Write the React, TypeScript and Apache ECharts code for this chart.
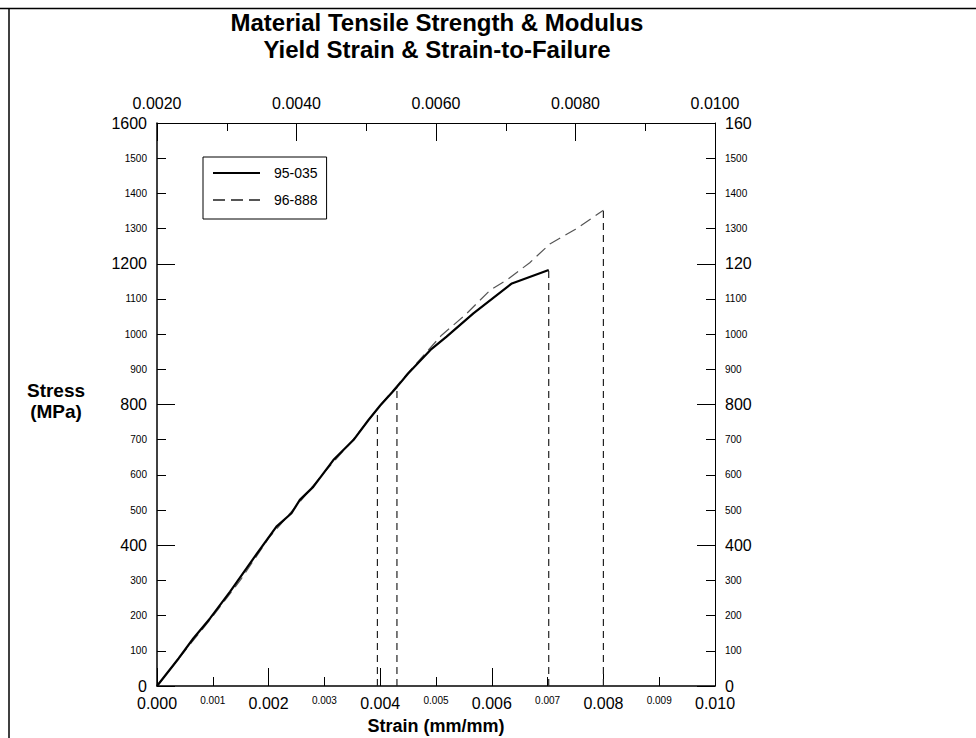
import { useEffect, useRef } from 'react';
import * as echarts from 'echarts';

const FONT = '"Liberation Sans", Arial, Helvetica, sans-serif';

const titleLines = ['Material Tensile Strength & Modulus', 'Yield Strain & Strain-to-Failure'];
const yTitle = 'Stress\n(MPa)';
const xTitle = 'Strain (mm/mm)';
const seriesNames = ['95-035', '96-888'];

// 95-035 (solid)
const strain95 = [0, 0.00039, 0.00065, 0.00095, 0.00131, 0.00173, 0.00214, 0.00241, 0.00256, 0.0028, 0.00316, 0.00352, 0.00379, 0.004, 0.0043, 0.0045, 0.0049, 0.00519, 0.00567, 0.00636, 0.00702];
const stress95 = [0, 79, 135, 192, 268, 363, 453, 491, 529, 566, 642, 699, 756, 797, 850, 888, 955, 993, 1059, 1144, 1182];

// 96-888 (dashed)
const strain96 = [0, 0.0005, 0.001, 0.0015, 0.002, 0.0025, 0.003, 0.0035, 0.004, 0.0045, 0.0051, 0.00552, 0.00597, 0.00627, 0.00668, 0.00704, 0.0075, 0.008];
const stress96 = [0, 100, 198, 302, 420, 512, 608, 697, 798, 890, 997, 1054, 1125, 1154, 1203, 1256, 1298, 1352];

// yield / failure drop lines
const dropStrains = [0.00395, 0.0043, 0.00702, 0.008];
const dropStresses = [786, 852, 1182, 1352];

const bottomTickLabels = [0, 0.001, 0.002, 0.003, 0.004, 0.005, 0.006, 0.007, 0.008, 0.009, 0.01];
const topTickLabels = [0.002, 0.004, 0.006, 0.008, 0.01];
const stressTickLabels = [0, 100, 200, 300, 400, 500, 600, 700, 800, 900, 1000, 1100, 1200, 1300, 1400, 1500, 1600];
const rightBigLabels: Record<number, string> = { 1600: '160', 1200: '120', 800: '800', 400: '400', 0: '0' };

export default function App() {
  const ref = useRef<HTMLDivElement>(null);
  useEffect(() => {
    if (!ref.current) return;
    const chart = echarts.init(ref.current, undefined, { renderer: 'svg' });
    const richY = {
      b: { fontSize: 16, lineHeight: 16, fontFamily: FONT, color: '#000' },
      s: { fontSize: 10, lineHeight: 10, fontFamily: FONT, color: '#000' },
    };
    const axisLineStyle = { color: '#000', width: 1.5 };
    const option: any = {
      animation: false,
      backgroundColor: '#fff',
      title: [
        {
          text: titleLines.join('\n'),
          left: 437,
          top: 9,
          padding: 0,
          textAlign: 'center',
          textStyle: { fontSize: 24, fontWeight: 'bold', lineHeight: 27, fontFamily: FONT, color: '#000' },
        },
        {
          text: yTitle,
          left: 56,
          top: 379.5,
          padding: 0,
          textAlign: 'center',
          textStyle: { fontSize: 19, fontWeight: 'bold', lineHeight: 21.5, fontFamily: FONT, color: '#000' },
        },
      ],
      legend: {
        data: seriesNames,
        orient: 'vertical',
        left: 203,
        top: 157,
        padding: [9, 9, 12, 9],
        itemWidth: 47,
        itemHeight: 14,
        itemGap: 13,
        borderColor: '#000',
        borderWidth: 1,
        borderRadius: 0,
        selectedMode: false,
        itemStyle: { opacity: 0 },
        textStyle: { fontSize: 14, fontFamily: FONT, color: '#000', padding: [0, 0, 0, 9] },
      },
      grid: { left: 157, top: 123, width: 558, height: 563, containLabel: false, outerBoundsMode: 'none' },
      xAxis: [
        {
          type: 'value',
          position: 'bottom',
          min: 0,
          max: 0.01,
          interval: 0.002,
          axisLine: { show: true, onZero: false, lineStyle: axisLineStyle },
          axisTick: { show: true, inside: true, length: 18, lineStyle: { color: '#000', width: 1 } },
          minorTick: { show: true, splitNumber: 2, length: 9, lineStyle: { color: '#000', width: 1 } },
          splitLine: { show: false },
          axisLabel: {
            customValues: bottomTickLabels,
            margin: 9,
            formatter: (v: number) => {
              const k = Math.round(v * 1000);
              return k % 2 === 0 ? `{b|${v.toFixed(3)}}` : `{s|${v.toFixed(3)}}`;
            },
            rich: richY,
          },
          name: xTitle,
          nameLocation: 'middle',
          nameGap: 31,
          nameTextStyle: { fontSize: 18, fontWeight: 'bold', fontFamily: FONT, color: '#000', lineHeight: 18 },
        },
        {
          type: 'value',
          position: 'top',
          min: 0.002,
          max: 0.01,
          interval: 0.002,
          axisLine: { show: true, onZero: false, lineStyle: { color: '#000', width: 1 } },
          axisTick: { show: true, inside: true, length: 18, lineStyle: { color: '#000', width: 1 } },
          minorTick: { show: true, splitNumber: 2, length: 8, lineStyle: { color: '#000', width: 1 } },
          splitLine: { show: false },
          axisLabel: {
            customValues: topTickLabels,
            margin: 12,
            fontSize: 16,
            lineHeight: 16,
            fontFamily: FONT,
            color: '#000',
            formatter: (v: number) => v.toFixed(4),
          },
        },
      ],
      yAxis: [
        {
          type: 'value',
          position: 'left',
          min: 0,
          max: 1600,
          interval: 400,
          axisLine: { show: true, onZero: false, lineStyle: axisLineStyle },
          axisTick: { show: true, inside: true, length: 18, lineStyle: { color: '#000', width: 1 } },
          minorTick: { show: true, splitNumber: 4, length: 9, lineStyle: { color: '#000', width: 1 } },
          splitLine: { show: false },
          axisLabel: {
            customValues: stressTickLabels,
            margin: 10,
            formatter: (v: number) => (v % 400 === 0 ? `{b|${v}}` : `{s|${v}}`),
            rich: richY,
          },
        },
        {
          type: 'value',
          position: 'right',
          min: 0,
          max: 1600,
          interval: 400,
          axisLine: { show: true, onZero: false, lineStyle: { color: '#000', width: 1 } },
          axisTick: { show: true, inside: true, length: 18, lineStyle: { color: '#000', width: 1 } },
          minorTick: { show: true, splitNumber: 4, length: 9, lineStyle: { color: '#000', width: 1 } },
          splitLine: { show: false },
          axisLabel: {
            customValues: stressTickLabels,
            margin: 10,
            formatter: (v: number) => (v % 400 === 0 ? `{b|${rightBigLabels[v]}}` : `{s|${v}}`),
            rich: richY,
          },
        },
      ],
      graphic: [
        { type: 'line', shape: { x1: 0, y1: 8.5, x2: 976, y2: 8.5 }, style: { stroke: '#000', lineWidth: 1.5 } },
        { type: 'line', shape: { x1: 9, y1: 8.5, x2: 9, y2: 738 }, style: { stroke: '#000', lineWidth: 1.5 } },
      ],
      series: [
        {
          name: seriesNames[0],
          type: 'line',
          xAxisIndex: 0,
          yAxisIndex: 0,
          data: strain95.map((x, i) => [x, stress95[i]]),
          symbol: 'none',
          z: 4,
          lineStyle: { color: '#000', width: 2.2 },
          itemStyle: { color: '#000' },
        },
        {
          name: seriesNames[1],
          type: 'line',
          xAxisIndex: 0,
          yAxisIndex: 0,
          data: strain96.map((x, i) => [x, stress96[i]]),
          symbol: 'none',
          z: 3,
          lineStyle: { color: '#555', width: 1.2, type: [12, 6] },
          itemStyle: { color: '#555' },
        },
        ...dropStrains.map((x, i) => ({
          name: 'drop' + i,
          type: 'line',
          xAxisIndex: 0,
          yAxisIndex: 0,
          data: [
            [x, 0],
            [x, dropStresses[i]],
          ],
          symbol: 'none',
          silent: true,
          z: 2,
          lineStyle: { color: '#222', width: 1.2, type: [7, 5] },
        })),
      ],
    };
    chart.setOption(option);
    return () => chart.dispose();
  }, []);
  return (
    <div
      ref={ref}
      style={{ position: 'fixed', left: 0, top: 0, width: 976, height: 738, background: '#fff' }}
    />
  );
}
